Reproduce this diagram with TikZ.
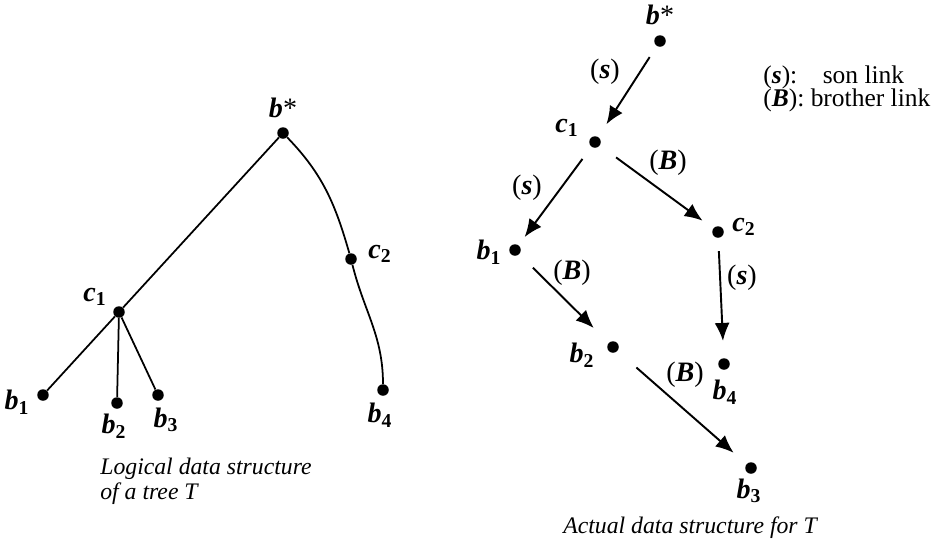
\documentclass[tikz,border=0pt]{standalone}
\usepackage{fontspec}
\setmainfont{Liberation Serif}
\usetikzlibrary{arrows.meta, positioning, calc}

\newcommand{\bv}[1]{\textbf{\textit{#1}}}
\newcommand{\vx}[2]{\bv{#1}\textsubscript{\textbf{#2}}}

\begin{document}
\begin{tikzpicture}[x=0.02cm, y=-0.02cm,
  dot/.style={circle, fill=black, inner sep=0pt, minimum size=0.23cm},
  lbl/.style={font=\fontsize{16}{18}\selectfont, inner sep=0pt},
  legtxt/.style={font=\fontsize{14.5}{17}\selectfont, inner sep=0pt, anchor=west},
  captxt/.style={font=\fontsize{13.5}{14.2}\selectfont\itshape, inner sep=0pt, anchor=west, align=left},
  tie/.style={line width=1pt},
  link/.style={-{Latex[length=0.36cm,width=0.3cm]}, line width=1.1pt, shorten <=0.3cm, shorten >=0.3cm}
]
  \useasboundingbox (0,0) rectangle (945,549);

  % logical tree
  \node[dot] (ls) at (283,133) {};
  \node[dot] (lc1) at (119,312) {};
  \node[dot] (lc2) at (351,259) {};
  \node[dot] (lb1) at (43,395) {};
  \node[dot] (lb2) at (117,403) {};
  \node[dot] (lb3) at (158,395) {};
  \node[dot] (lb4) at (383,390) {};

  \node[lbl] (ls-t) at ($(ls)+(0,-25)$) {\bv{b}*};
  \node[lbl] (lc1-t) at ($(lc1)+(-24,-15)$) {\vx{c}{1}};
  \node[lbl] (lc2-t) at ($(lc2)+(29,-5)$) {\vx{c}{2}};
  \node[lbl] (lb1-t) at ($(lb1)+(-26,7)$) {\vx{b}{1}};
  \node[lbl] (lb2-t) at ($(lb2)+(-3,23)$) {\vx{b}{2}};
  \node[lbl] (lb3-t) at ($(lb3)+(8,25)$) {\vx{b}{3}};
  \node[lbl] (lb4-t) at ($(lb4)+(-3,25)$) {\vx{b}{4}};

  \draw[tie] (ls) -- (lc1);
  \draw[tie] (lc1) -- (lb1);
  \draw[tie] (lc1) -- (lb2);
  \draw[tie] (lc1) -- (lb3);
  \draw[tie] (ls) to[out=-46, in=106] (lc2);
  \draw[tie] (lc2) to[out=-76, in=90] (lb4);

  \node[captxt] (lcap) at (100,481) {Logical data structure\\of a tree \textit{T}};

  % actual structure
  \node[dot] (rs) at (660,41) {};
  \node[dot] (rc1) at (595,142) {};
  \node[dot] (rc2) at (718,232) {};
  \node[dot] (rb1) at (515,250) {};
  \node[dot] (rb2) at (613,347) {};
  \node[dot] (rb4) at (724,364) {};
  \node[dot] (rb3) at (751,468) {};

  \node[lbl] (rs-t) at ($(rs)+(0,-26)$) {\bv{b}*};
  \node[lbl] (rc1-t) at ($(rc1)+(-28,-14)$) {\vx{c}{1}};
  \node[lbl] (rc2-t) at ($(rc2)+(26,-5)$) {\vx{c}{2}};
  \node[lbl] (rb1-t) at ($(rb1)+(-26,2)$) {\vx{b}{1}};
  \node[lbl] (rb2-t) at ($(rb2)+(-31,8)$) {\vx{b}{2}};
  \node[lbl] (rb4-t) at ($(rb4)+(1,28)$) {\vx{b}{4}};
  \node[lbl] (rb3-t) at ($(rb3)+(-2,23)$) {\vx{b}{3}};

  \draw[link, shorten <=0.26cm] (rs) -- (rc1);
  \draw[link, shorten >=0.2cm] (rc1) -- (rb1);
  \draw[link, shorten <=0.4cm, shorten >=0.26cm] (rc1) -- (rc2);
  \draw[link, shorten <=0.38cm, shorten >=0.42cm] (rb1) -- (rb2);
  \draw[link, shorten <=0.26cm, shorten >=0.34cm] (rc2) -- (rb4);
  \draw[link, shorten <=0.5cm, shorten >=0.34cm] (rb2) -- (rb3);

  \node[lbl] (e1) at (605,72) {(\bv{s})};
  \node[lbl] (e2) at (527,188) {(\bv{s})};
  \node[lbl] (e3) at (668,163) {(\bv{B})};
  \node[lbl] (e4) at (572,273) {(\bv{B})};
  \node[lbl] (e5) at (742,278) {(\bv{s})};
  \node[lbl] (e6) at (685,375) {(\bv{B})};

  \node[legtxt] (legs) at (763,77) {(\bv{s}):\quad son link};
  \node[legtxt] (legb) at (763,100) {(\bv{B}):\ brother link};

  \node[captxt] (rcap) at (563,528) {Actual data structure for \textit{T}};
\end{tikzpicture}
\end{document}
